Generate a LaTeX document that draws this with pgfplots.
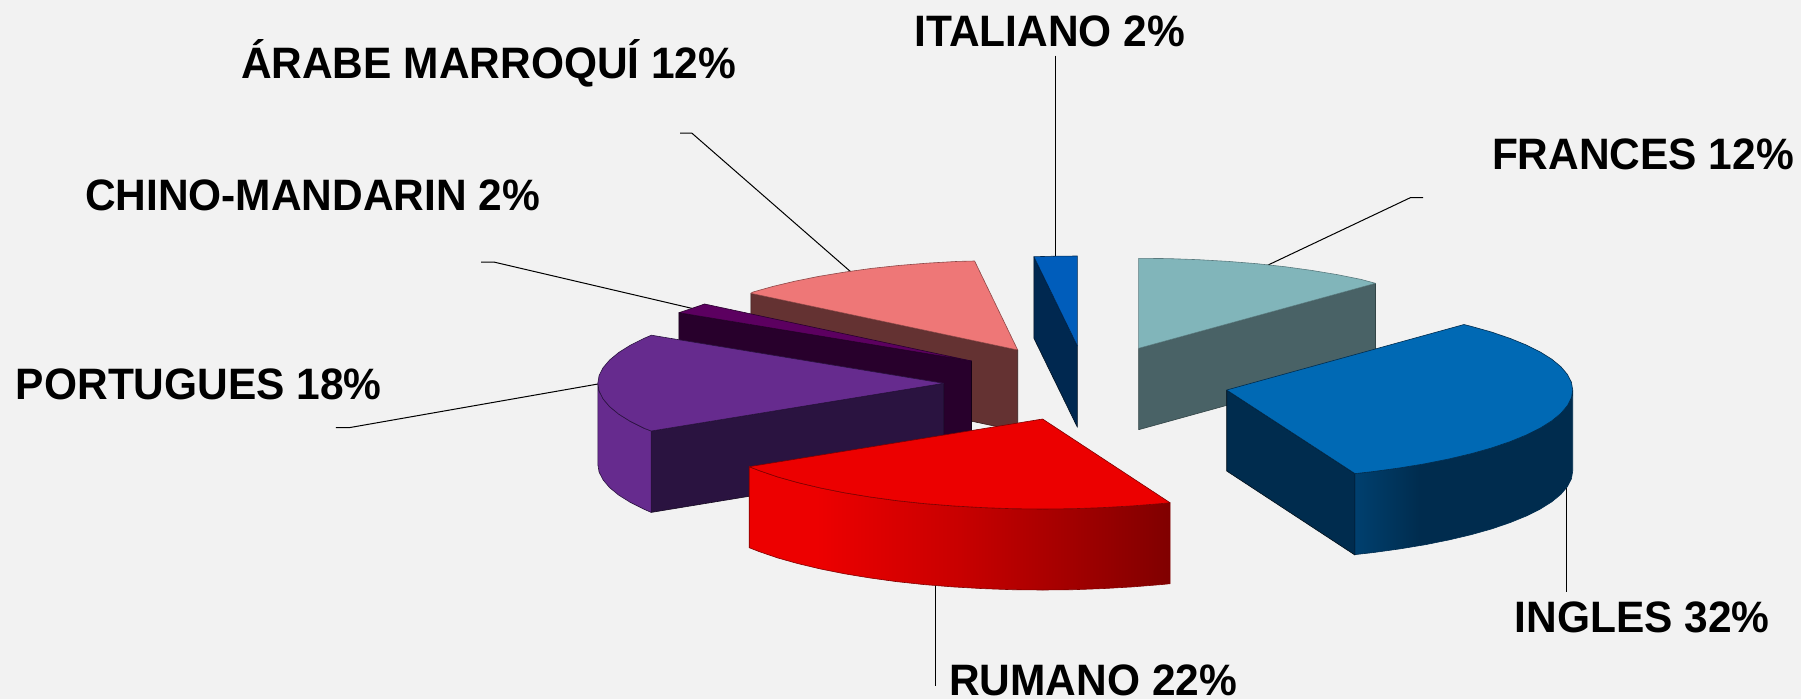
\documentclass[border=0pt]{standalone}
\usepackage{pgfplots}
\pgfplotsset{compat=1.18}
\usepackage{fontspec}
\setmainfont{Liberation Sans}
\definecolor{bg}{HTML}{F2F2F2}
\definecolor{redA}{HTML}{ED0000}
\definecolor{redM}{HTML}{C80000}
\definecolor{redB}{HTML}{800000}
\definecolor{redTop}{HTML}{EC0000}
\definecolor{blueA}{HTML}{00406F}
\definecolor{blueB}{HTML}{002C4E}
\definecolor{blueTop}{HTML}{0069B4}
\definecolor{itaTop}{HTML}{005DBB}
\definecolor{itaWall}{HTML}{002850}
\definecolor{fraTop}{HTML}{81B5BA}
\definecolor{fraWall}{HTML}{496266}
\definecolor{araTop}{HTML}{EE7777}
\definecolor{araWall}{HTML}{643232}
\definecolor{chiTop}{HTML}{5C0060}
\definecolor{chiWall}{HTML}{28002C}
\definecolor{porTop}{HTML}{662B8E}
\definecolor{porWall}{HTML}{2A1340}
\pgfdeclarehorizontalshading{redwall}{100bp}{color(0bp)=(redA); color(25bp)=(redA); color(33bp)=(redA); color(50bp)=(redM); color(75bp)=(redB); color(100bp)=(redB)}
\pgfdeclarehorizontalshading{bluewall}{100bp}{color(0bp)=(blueA); color(25bp)=(blueA); color(40bp)=(blueB); color(75bp)=(blueB); color(100bp)=(blueB)}
\tikzset{
  edge/.style={draw=#1, line width=0.6pt, line join=round},
  lead/.style={draw=black, line width=1pt},
  lab/.style={anchor=base west, inner sep=0pt, outer sep=0pt, font=\fontsize{44}{50}\selectfont\bfseries, text=black},
}
\newcommand{\lbl}[1]{\scalebox{0.965}[1]{#1}}
\begin{document}
\begin{tikzpicture}
\begin{axis}[
  scale only axis, width=1801pt, height=699pt,
  xmin=0, xmax=1801, ymin=0, ymax=699, y dir=reverse,
  hide axis, clip=false,
]
% background
\addplot[fill=bg, draw=none] coordinates {(0,0)(1801,0)(1801,699)(0,699)(0,0)};
% leaders
\addplot[lead] coordinates {(680.2,133)(691.7,133)(851.3,272.3)};
\addplot[lead] coordinates {(481,262)(493.7,262)(691.7,308.3)};
\addplot[lead] coordinates {(335.8,427.7)(349,427.7)(598,384)};
\addplot[lead] coordinates {(1055.7,55.7)(1055.7,256.7)};
\addplot[lead] coordinates {(1423,197.7)(1410.3,197.7)(1266,266)};
\addplot[lead] coordinates {(935.2,585)(935.2,686)};
\addplot[lead] coordinates {(1566.5,488.3)(1566.5,591.7)};
% FRANCES 12
\addplot[fill=fraWall, edge=fraWall!70!black] coordinates {(1138.6,348.3)(1375.5,283.3)(1375.5,364.3)(1138.6,429.7)(1138.6,348.3)};
\addplot[fill=fraTop, edge=fraWall!70!fraTop] coordinates {(1138.6,348.3)(1138.6,258.3)(1168.8,258.6)(1198.7,259.7)(1228.2,261.4)(1256.9,263.7)(1284.8,266.7)(1311.6,270.4)(1337.1,274.6)(1361,279.4)(1375.5,283.3)(1138.6,348.3)};
% INGLES 32
\addplot[fill=blueB, edge=black!70!blueB] coordinates {(1226.7,390)(1354.9,473.6)(1354.9,555)(1226.7,471)(1226.7,390)};
\addplot[shading=bluewall, edge=blueB] coordinates {(1355,473.6)(1372.9,471.6)(1399.7,467.9)(1425.2,463.7)(1449.1,458.9)(1471.4,453.6)(1491.7,447.9)(1510.1,441.6)(1526.3,435)(1540.3,428)(1551.8,420.8)(1560.9,413.3)(1567.4,405.6)(1571.4,397.8)(1572.7,390)(1572.7,471)(1571.4,478.8)(1567.4,486.6)(1560.9,494.3)(1551.8,501.8)(1540.3,509)(1526.3,516)(1510.1,522.6)(1491.7,528.9)(1471.4,534.6)(1449.1,539.9)(1425.2,544.7)(1399.7,548.9)(1372.9,552.6)(1355,554.6)(1355,473.6)};
\addplot[fill=blueTop, edge=blueB] coordinates {(1226.7,390)(1464,324.5)(1471.4,326.4)(1491.7,332.1)(1510.1,338.4)(1526.3,345)(1540.3,352)(1551.8,359.2)(1560.9,366.7)(1567.4,374.4)(1571.4,382.2)(1572.7,390)(1571.4,397.8)(1567.4,405.6)(1560.9,413.3)(1551.8,420.8)(1540.3,428)(1526.3,435)(1510.1,441.6)(1491.7,447.9)(1471.4,453.6)(1449.1,458.9)(1425.2,463.7)(1399.7,467.9)(1372.9,471.6)(1355,473.6)(1226.7,390)};
% ITALIANO 2
\addplot[fill=itaWall, edge=black!60!itaWall] coordinates {(1033.9,256.7)(1077.4,346)(1077.4,427.3)(1033.9,338.3)(1033.9,256.7)};
\addplot[fill=itaTop, edge=itaWall] coordinates {(1077.4,346)(1033.9,256.7)(1055,256.2)(1077.4,256)(1077.4,346)};
% ARABE 12
\addplot[fill=araWall, edge=black!50!araWall] coordinates {(750.8,293.3)(1017.7,350)(1017.7,431)(750.8,374.3)(750.8,293.3)};
\addplot[fill=araTop, edge=araWall!70!araTop] coordinates {(1017.7,350)(750.8,293.3)(752.7,292.1)(773,286.4)(795.3,281.1)(819.2,276.3)(844.7,272.1)(871.5,268.4)(899.4,265.4)(928.1,263.1)(957.6,261.4)(974.6,261)(1017.7,350)};
% CHINO 2
\addplot[fill=chiWall, edge=black!50!chiWall] coordinates {(678.9,312.7)(971.5,361)(971.5,442)(678.9,393.7)(678.9,312.7)};
\addplot[fill=chiTop, edge=chiWall] coordinates {(971.5,361)(678.9,312.7)(690,309)(704.6,304)(971.5,361)};
% PORTUGUES 18
\addplot[fill=porWall, edge=black!50!porWall] coordinates {(651.2,431)(943.8,383.3)(943.8,464.3)(651.2,512.4)(651.2,431)};
\addplot[fill=porTop, edge=porWall] coordinates {(597.8,383.3)(599.1,391.1)(603.1,398.9)(609.6,406.6)(618.7,414.1)(630.2,421.3)(644.2,428.3)(651.2,431)(651.2,512.4)(644.2,509.3)(630.2,502.3)(618.7,495.1)(609.6,487.6)(603.1,479.9)(599.1,472.1)(597.8,464.3)(597.8,383.3)};
\addplot[fill=porTop, edge=porWall] coordinates {(943.8,383.3)(651.4,335.2)(644.2,338.3)(630.2,345.3)(618.7,352.5)(609.6,360)(603.1,367.7)(599.1,375.5)(597.8,383.3)(599.1,391.1)(603.1,398.9)(609.6,406.6)(618.7,414.1)(630.2,421.3)(644.2,428.3)(651.2,431)(943.8,383.3)};
% RUMANO 22
\addplot[shading=redwall, edge=redB] coordinates {(749.2,466.7)(759.2,470.6)(777.6,476.9)(797.9,482.6)(820.2,487.9)(844.1,492.7)(869.6,496.9)(896.4,500.6)(924.3,503.6)(953,505.9)(982.5,507.6)(1012.4,508.7)(1042.6,509)(1072.8,508.7)(1102.7,507.6)(1132.2,505.9)(1160.9,503.6)(1170,502.7)(1170,583.7)(1160.9,584.6)(1132.2,586.9)(1102.7,588.6)(1072.8,589.7)(1042.6,590)(1012.4,589.7)(982.5,588.6)(953,586.9)(924.3,584.6)(896.4,581.6)(869.6,577.9)(844.1,573.7)(820.2,568.9)(797.9,563.6)(777.6,557.9)(759.2,551.6)(749.2,547.7)(749.2,466.7)};
\addplot[fill=redTop, edge=redB] coordinates {(1042.6,419)(749.2,466.7)(759.2,470.6)(777.6,476.9)(797.9,482.6)(820.2,487.9)(844.1,492.7)(869.6,496.9)(896.4,500.6)(924.3,503.6)(953,505.9)(982.5,507.6)(1012.4,508.7)(1042.6,509)(1072.8,508.7)(1102.7,507.6)(1132.2,505.9)(1160.9,503.6)(1170,502.7)(1042.6,419)};
% labels
\node[lab] at (axis cs:241,78.3) {\lbl{ÁRABE MARROQUÍ 12\%}};
\node[lab] at (axis cs:85,210) {\lbl{CHINO-MANDARIN 2\%}};
\node[lab] at (axis cs:16,399) {\lbl{PORTUGUES 18\%}};
\node[lab] at (axis cs:914.4,46.7) {\lbl{ITALIANO 2\%}};
\node[lab] at (axis cs:1492,169) {\lbl{FRANCES 12\%}};
\node[lab] at (axis cs:949.3,695.5) {\lbl{RUMANO 22\%}};
\node[lab] at (axis cs:1514.6,632.7) {\lbl{INGLES 32\%}};
\end{axis}
\end{tikzpicture}
\end{document}
